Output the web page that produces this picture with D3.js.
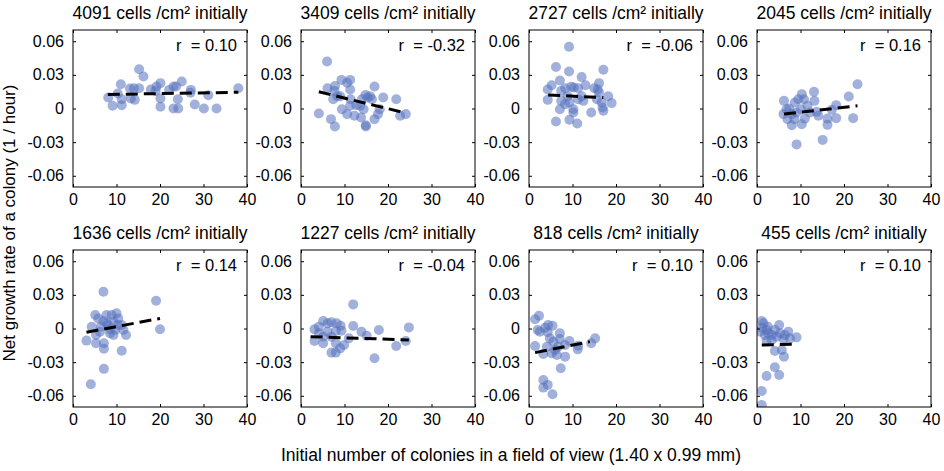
<!DOCTYPE html>
<html>
<head>
<meta charset="utf-8">
<script src="https://cdn.jsdelivr.net/npm/d3@7"></script>
<style>
  body { margin: 0; background: #fff; }
  svg { font-family: Arial, "Liberation Sans", sans-serif; }
</style>
</head>
<body>
<div id="chart"></div>
<script>
// panel titles and correlation labels
var densities = [4091, 3409, 2727, 2045, 1636, 1227, 818, 455];
var rLabels = ['0.10', '-0.32', '-0.06', '0.16', '0.14', '-0.04', '0.10', '0.10'];

// fitted line end points [x0, y0, x1, y1]
var fits = [
    [8, 0.0125, 38, 0.0145],
    [4.1, 0.0149, 24, -0.004],
    [4.4, 0.012, 17.1, 0.0098],
    [6.2, -0.005, 23.1, 0.0024],
    [3.1, -0.0034, 20, 0.009],
    [2.2, -0.0073, 24.8, -0.0102],
    [1.4, -0.0215, 14, -0.0117],
    [1.1, -0.0147, 9.1, -0.014]
];

// colonies: [initial count, growth rate]
var p4091 = [[8.1,0.0098],[9.1,0.0024],[11.0,0.0217],[10.3,0.0134],[11.2,0.0083],[11.2,0.003],[13.3,0.009],[13.1,0.0178],
    [14.2,0.0077],[14.0,0.018],[15.2,0.035],[16.2,0.0285],[15.2,0.018],[17.9,0.017],[19.2,0.0196],[20.1,0.0226],[19.0,0.0157],
    [20.1,0.009],[20.1,0.0015],[22.1,0.0166],[23.1,0.0196],[23.7,0.0196],[25.0,0.024],[24.1,0.0083],[23.1,0],[24.2,0],
    [27.1,0.0166],[28.0,0.0036],[30.1,0],[31.1,0.0119],[33.0,0],[38.0,0.018],[27.0,0.014]];
var p3409 = [[4.1,-0.0045],[6.0,0.0419],[6.1,0.018],[6.9,-0.0095],[7.8,-0.016],[7.8,0.020],[7.7,0.0157],[7.4,0.0083],
    [8.3,0.011],[9.3,0.0255],[9.4,-0.0006],[9.0,0.011],[10.6,-0.005],[10.6,0.023],[11.3,0.0255],[11.3,0.017],[11.4,0.0083],
    [12.7,0.003],[12.3,-0.0065],[13.8,-0.008],[14.0,0.0083],[14.8,0.012],[14.9,-0.015],[14.9,-0.016],[15.3,0.0098],
    [15.9,0.011],[16.3,0.0083],[16.9,0.0196],[16.9,-0.0095],[17.7,-0.005],[18.1,-0.0006],[18.9,0.0098],[21.9,0.0083],
    [22.8,-0.0065],[24.1,-0.005],[14.4,-0.0006],[13.6,0.0024],[11.3,0.0024]];
var p2727 = [[9.2,0.055],[6.2,0.037],[9.2,0.033],[17.1,0.0345],[7.1,0.025],[12.1,0.028],[5.2,0.0208],[4.3,0.017],
    [4.3,0.0077],[7.4,0.0157],[8.3,0.018],[9.7,0.0193],[10.3,0.0187],[11.3,0.018],[13.0,0.0208],[16.1,0.0226],[15.8,0.017],
    [15.0,0.018],[16.1,0.0142],[18.2,0.011],[19.0,0.0048],[16.9,0.0009],[17.1,-0.002],[14.3,-0.0036],[10.2,-0.0006],
    [10.2,-0.0036],[9.3,-0.010],[11.1,-0.0134],[6.2,-0.0116],[7.1,-0.0006],[7.4,0.0068],[8.3,0.0039],[9.3,0.0053],
    [11.3,0.0083],[12.5,0.0068],[15.6,0.0083],[16.7,0.0053],[8.9,0.011],[12.1,0.011]];
var p2045 = [[23.1,0.0217],[21.1,0.0107],[22.1,-0.0086],[18.2,0.003],[18.2,-0.0086],[17.2,-0.0012],[16.2,-0.009],
    [16.2,-0.0146],[15.1,-0.028],[13.1,0.015],[13.2,0.0068],[10.3,0.0128],[9.1,-0.032],[6.2,0.0068],[6.1,-0.005],
    [7.0,-0.0095],[8.0,-0.0149],[7.4,0],[8.7,0.0053],[9.1,-0.0036],[10.1,-0.0006],[10.3,-0.014],[11.0,-0.009],[11.6,0.0024],
    [12.2,-0.0036],[13.7,-0.003],[14.1,-0.0065],[9.5,0.0083],[10.8,0.0083],[8.0,-0.005],[6.8,-0.0006],[8.6,-0.0095]];
var p1636 = [[7.0,0.0328],[19.1,0.0248],[20.0,-0.0007],[11.2,-0.0198],[7.1,-0.036],[4.1,-0.0497],[3.1,-0.0108],
    [4.3,0.0016],[5.1,0.012],[5.3,-0.0058],[5.3,-0.0132],[6.2,-0.0028],[7.0,0.0067],[7.1,-0.0132],[7.1,-0.018],[7.7,0.012],
    [8.1,0.0031],[8.5,-0.0043],[8.9,0.012],[9.3,0.0061],[9.3,-0.0058],[10.0,0.0135],[10.3,0.0031],[11.2,0.0031],
    [11.6,-0.0013],[12.2,-0.0058],[8.5,-0.0007],[5.8,0.009],[7.7,0.0046],[9.7,-0.0013],[10.4,0.009],[6.4,0.0016]];
var p1227 = [[12.0,0.0215],[12.0,0.0022],[24.8,0.001],[17.9,-0.0013],[13.9,-0.0028],[15.1,-0.0064],[16.9,-0.0266],
    [21.9,-0.0156],[24.1,-0.0111],[7.0,-0.0215],[8.0,-0.0215],[9.0,-0.0177],[9.9,-0.0147],[9.3,-0.0019],[9.1,0.0025],
    [8.2,0.0046],[7.0,0.0055],[6.1,0.0046],[5.1,0.0067],[3.1,-0.0007],[3.1,-0.0111],[4.1,-0.0043],[5.1,-0.0132],
    [5.1,-0.0073],[6.1,-0.0028],[7.0,-0.0073],[8.0,-0.0132],[11.0,-0.0088],[4.1,0.0016],[8.0,-0.0022]];
var p818 = [[1.4,0.0082],[2.3,0.0114],[2.0,-0.0013],[1.4,-0.0156],[3.7,0.0007],[5.4,0.0025],[4.3,-0.0034],[4.8,-0.0088],
    [4.1,-0.0162],[3.3,-0.0227],[7.1,-0.0043],[7.1,-0.0094],[8.3,-0.0147],[9.3,-0.0111],[8.3,-0.0251],[7.3,-0.0355],
    [3.3,-0.0459],[4.3,-0.0503],[3.3,-0.0527],[5.4,-0.0587],[11.2,-0.0186],[11.3,-0.0153],[14.3,-0.0132],[15.2,-0.0088],
    [6.0,-0.0191],[6.4,-0.0236],[5.2,-0.0221],[2.5,-0.0028],[5.6,-0.0117],[6.7,-0.0162],[4.4,0.0031]];
var p455 = [[1.1,0.0067],[1.1,0.0007],[1.5,0.0046],[2.5,0.0016],[5.1,0.0031],[7.2,-0.0028],[9.1,-0.0079],[5.3,-0.0043],
    [6.1,-0.0094],[5.7,-0.0192],[6.2,-0.0251],[4.1,-0.0201],[4.1,-0.0346],[5.1,-0.0415],[2.2,-0.0424],[1.1,-0.0558],
    [1.1,-0.0682],[1.8,-0.0058],[2.2,-0.0111],[3.4,-0.0103],[3.4,-0.0058],[4.5,-0.0073],[2.6,-0.0043],[4.1,-0.0013],
    [2.2,-0.0013],[0.7,-0.0028],[6.4,-0.0058],[7.6,-0.0088]];
var points = [p4091, p3409, p2727, p2045, p1636, p1227, p818, p455];

var xTicks = [0, 10, 20, 30, 40];
var yTicks = [-0.06, -0.03, 0, 0.03, 0.06];
var yTickLabels = ['-0.06', '-0.03', '0', '0.03', '0.06'];

var width = 944, height = 471;
var panelW = 174, panelH = 157;
var left0 = 73, colStep = 228;
var rowTops = [30, 250];

var svg = d3.select('#chart').append('svg')
    .attr('width', width)
    .attr('height', height);

var x = d3.scaleLinear().domain([0, 40]).range([0, panelW]);
var y = d3.scaleLinear().domain([-0.07, 0.07]).range([panelH, 0]);

densities.forEach(function (d, i) {
    var col = i % 4, row = Math.floor(i / 4);
    var g = svg.append('g')
        .attr('transform', 'translate(' + (left0 + col * colStep) + ',' + rowTops[row] + ')');

    g.append('clipPath').attr('id', 'clip-' + i)
        .append('rect').attr('width', panelW).attr('height', panelH);

    // dots
    g.append('g').attr('clip-path', 'url(#clip-' + i + ')')
        .selectAll('circle')
        .data(points[i])
        .enter().append('circle')
        .attr('cx', p => x(p[0]))
        .attr('cy', p => y(p[1]))
        .attr('r', 5)
        .style('fill', '#5671bd')
        .style('fill-opacity', 0.55);

    // fitted line
    var f = fits[i];
    g.append('line')
        .attr('x1', x(f[0])).attr('y1', y(f[1]))
        .attr('x2', x(f[2])).attr('y2', y(f[3]))
        .style('stroke', '#000')
        .style('stroke-width', 3)
        .style('stroke-dasharray', '12,6');

    // axes, ticks inward on all sides
    g.append('g').attr('transform', 'translate(0,' + panelH + ')')
        .call(d3.axisBottom(x).tickValues(xTicks).tickSizeInner(-3).tickSizeOuter(0).tickPadding(7))
        .call(a => a.select('.domain').remove());
    g.append('g')
        .call(d3.axisTop(x).tickValues(xTicks).tickSizeInner(-3).tickSizeOuter(0).tickFormat(''))
        .call(a => a.select('.domain').remove());
    g.append('g')
        .call(d3.axisLeft(y).tickValues(yTicks).tickSizeInner(-3).tickSizeOuter(0).tickPadding(9)
            .tickFormat((v, k) => yTickLabels[k]))
        .call(a => a.select('.domain').remove());
    g.append('g').attr('transform', 'translate(' + panelW + ',0)')
        .call(d3.axisRight(y).tickValues(yTicks).tickSizeInner(-3).tickSizeOuter(0).tickFormat(''))
        .call(a => a.select('.domain').remove());

    g.selectAll('.tick text')
        .style('font-size', '16px')
        .style('font-family', 'Arial, "Liberation Sans", sans-serif')
        .style('fill', '#000');
    g.selectAll('.tick line').style('stroke', '#000');

    g.append('rect')
        .attr('width', panelW).attr('height', panelH)
        .style('fill', 'none')
        .style('stroke', '#000')
        .style('stroke-width', 1);

    g.append('text')
        .attr('x', panelW / 2).attr('y', -11)
        .attr('text-anchor', 'middle')
        .style('font-size', '17.5px')
        .text(d + ' cells /cm\u00B2 initially');

    g.append('text')
        .attr('x', panelW - 10).attr('y', 21)
        .attr('text-anchor', 'end')
        .style('font-size', '16.5px')
        .attr('xml:space', 'preserve')
        .text('r  = ' + rLabels[i]);
});

svg.append('text')
    .attr('transform', 'translate(15,' + 223 + ') rotate(-90)')
    .attr('text-anchor', 'middle')
    .style('font-size', '17px')
    .text('Net growth rate of a colony (1 / hour)');

svg.append('text')
    .attr('x', 511).attr('y', 461)
    .attr('text-anchor', 'middle')
    .style('font-size', '17.5px')
    .text('Initial number of colonies in a field of view (1.40 x 0.99 mm)');
</script>
</body>
</html>
